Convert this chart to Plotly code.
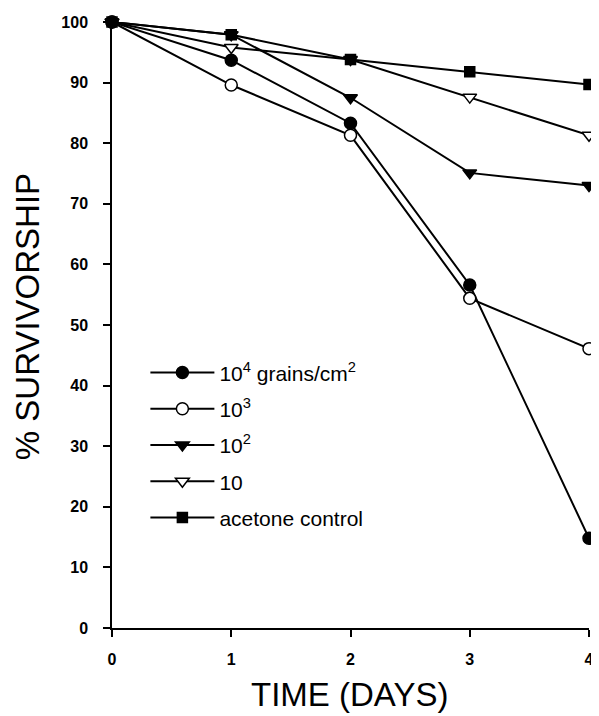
import plotly.graph_objects as go

days = [0, 1, 2, 3, 4]
s_1e4 = [100, 93.7, 83.3, 56.6, 14.8]
s_1e3 = [100, 89.6, 81.3, 54.4, 46.1]
s_1e2 = [100, 97.9, 87.5, 75.1, 73.0]
s_10 = [100, 95.8, 93.8, 87.6, 81.3]
s_acetone = [100, 97.9, 93.8, 91.8, 89.7]

names = ["10<sup>4</sup> grains/cm<sup>2</sup>", "10<sup>3</sup>", "10<sup>2</sup>", "10", "acetone control"]
series = [s_1e4, s_1e3, s_1e2, s_10, s_acetone]
symbols = ["circle", "circle", "triangle-down", "triangle-down", "square"]
fills = ["black", "white", "black", "white", "black"]
sizes = [12, 12, 12, 12, 10]

fig = go.Figure()
for i, (nm, vals) in enumerate(zip(names, series)):
    fig.add_trace(go.Scatter(
        x=days, y=vals, name=nm, mode="lines+markers",
        line=dict(color="black", width=2),
        marker=dict(symbol=symbols[i], size=sizes[i], color=fills[i],
                    line=dict(color="black", width=1.5)),
        cliponaxis=False, legendgroup=str(i),
    ))

FONT = "Liberation Sans, Arial, sans-serif"
TICKFONT = dict(size=16, family=FONT, weight="bold", color="black")
fig.update_layout(
    width=591, height=708,
    margin=dict(l=104, r=5, t=14, b=88),
    paper_bgcolor="white", plot_bgcolor="white",
    font=dict(family=FONT, color="black"),
    showlegend=True,
    legend=dict(x=0.07, y=0.455, xanchor="left", yanchor="top",
                font=dict(size=21, family=FONT, color="black"),
                bgcolor="rgba(0,0,0,0)", tracegroupgap=6,
                itemwidth=64),
    xaxis=dict(range=[0, 4], tickvals=[0, 1, 2, 3, 4], showline=True,
               linecolor="black", linewidth=1.5, ticks="outside", ticklen=7,
               tickwidth=1.5, tickcolor="black", showgrid=False, zeroline=False,
               ticklabelstandoff=9, tickfont=TICKFONT),
    yaxis=dict(range=[0, 100], tickvals=list(range(0, 101, 10)), showline=True,
               linecolor="black", linewidth=1.5, ticks="outside", ticklen=7,
               tickwidth=1.5, tickcolor="black", showgrid=False, zeroline=False,
               ticklabelstandoff=12, tickfont=TICKFONT),
    annotations=[
        dict(text="% SURVIVORSHIP", xref="paper", yref="paper", x=-0.178, y=0.513,
             textangle=-90, showarrow=False, font=dict(size=33, family=FONT),
             xanchor="center", yanchor="middle"),
        dict(text="TIME (DAYS)", xref="paper", yref="paper", x=0.498, y=-0.109,
             showarrow=False, font=dict(size=33, family=FONT),
             xanchor="center", yanchor="middle"),
    ],
)

fig.write_html("out.html")
